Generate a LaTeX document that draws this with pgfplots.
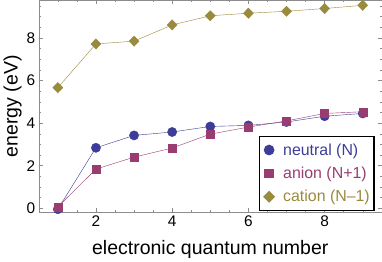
\documentclass[border=0pt]{standalone}
\usepackage{pgfplots}
\pgfplotsset{compat=1.18}
\usepackage{fontspec}
\setmainfont{Liberation Sans}
\definecolor{cN}{rgb}{0.24,0.24,0.6}
\definecolor{cA}{rgb}{0.6,0.24,0.4428}
\definecolor{cC}{rgb}{0.6,0.547,0.24}
\begin{document}
\begin{tikzpicture}
\begin{axis}[
  scale only axis,
  width=333bp, height=206bp,
  xmin=0.5, xmax=9.5, ymin=-0.19, ymax=9.76,
  xtick={2,4,6,8}, ytick={0,2,4,6,8},
  minor xtick={0.5,1,...,9.5}, minor ytick={0,0.5,...,9.5},
  tick align=inside,
  major tick length=4bp, minor tick length=2.2bp,
  axis line style={draw=black!45},
  every tick/.style={black!45},
  tick label style={font=\fontsize{15}{16}\selectfont},
  /pgf/number format/assume math mode=true,
  xlabel={electronic quantum number},
  ylabel={energy (eV)},
  label style={font=\fontsize{19}{20}\selectfont},
  xlabel style={yshift=-6bp},
  ylabel style={yshift=-2bp},
  legend style={at={(rel axis cs:0.979,0.006)}, anchor=south east, draw=black, line width=1.3pt,
    font=\fontsize{15.5}{17}\selectfont, row sep=6bp, inner xsep=2bp, inner ysep=5bp, fill=white},
  legend image code/.code={\path (0bp,0bp) (18bp,0bp); \draw[#1] plot coordinates {(7bp,0bp)};},
  legend cell align=left,
]
\addplot[cN, mark=*, mark size=4.5bp, forget plot] coordinates {
(1,-0.04)(2,2.84)(3,3.42)(4,3.58)(5,3.84)(6,3.89)(7,4.05)(8,4.32)(9,4.45)};
\addplot[cA, mark=square*, mark size=3.9bp, forget plot] coordinates {
(1,0.07)(2,1.84)(3,2.40)(4,2.83)(5,3.48)(6,3.81)(7,4.10)(8,4.45)(9,4.53)};
\addplot[cC, mark=diamond*, mark size=5bp, mark options={xscale=1.3}, forget plot] coordinates {
(1,5.66)(2,7.71)(3,7.84)(4,8.60)(5,9.03)(6,9.15)(7,9.24)(8,9.37)(9,9.52)};
\addlegendimage{only marks, cN, mark=*, mark size=4.5bp}
\addlegendentry{\textcolor{cN}{neutral (N)}}
\addlegendimage{only marks, cA, mark=square*, mark size=4bp}
\addlegendentry{\textcolor{cA}{anion (N+1)}}
\addlegendimage{only marks, cC, mark=diamond*, mark size=5bp, mark options={xscale=1.3}}
\addlegendentry{\textcolor{cC}{cation (N\textendash1)}}
\end{axis}
\end{tikzpicture}
\end{document}
